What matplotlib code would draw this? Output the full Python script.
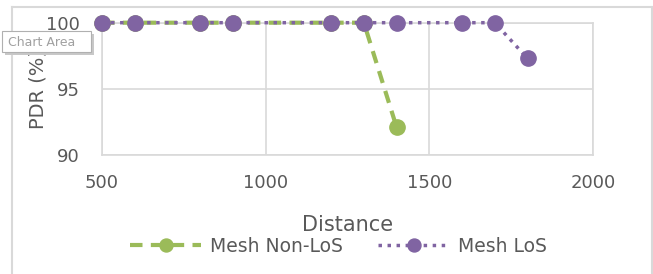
import matplotlib.pyplot as plt
from matplotlib.patches import Rectangle
from matplotlib.lines import Line2D

# data
dist_nlos = [500, 600, 800, 900, 1200, 1300, 1400]
pdr_nlos = [100, 100, 100, 100, 100, 100, 92.1]
dist_los = [500, 600, 800, 900, 1200, 1300, 1400, 1600, 1700, 1800]
pdr_los = [100, 100, 100, 100, 100, 100, 100, 100, 100, 97.3]

green = '#9BBB59'
purple = '#8064A2'
grid_c = '#D9D9D9'
text_c = '#595959'

W, H = 653, 274
fig = plt.figure(figsize=(W / 100, H / 100), dpi=100)
ax = fig.add_axes([102 / W, 1 - 155 / H, (593 - 102) / W, (155 - 22.7) / H])

ax.plot(dist_nlos, pdr_nlos, color=green, ls=(0, (3, 2)), lw=3, marker='o', ms=11,
        label='Mesh Non-LoS', clip_on=False, zorder=3)
ax.plot(dist_los, pdr_los, color=purple, ls=(0, (1, 1.6)), lw=2.5, marker='o', ms=11,
        label='Mesh LoS', clip_on=False, zorder=4)

ax.set_xlim(500, 2000)
ax.set_ylim(90, 100)
ax.set_xticks([500, 1000, 1500, 2000])
ax.set_yticks([90, 95, 100])
ax.grid(True, color=grid_c, lw=1.2)
ax.set_axisbelow(True)
for s in ax.spines.values():
    s.set_color(grid_c)
    s.set_linewidth(1.2)
ax.tick_params(length=0, labelsize=13, labelcolor=text_c)
ax.tick_params(axis='y', pad=16)
ax.tick_params(axis='x', pad=14)

ax.set_xlabel('Distance', fontsize=15, color=text_c)
ax.xaxis.set_label_coords(0.5, -0.45)
ax.set_ylabel('PDR (%)', fontsize=14, color=text_c)
ax.yaxis.set_label_coords(-0.11, 0.5)

fig.legend(loc='center', bbox_to_anchor=(0.518, 1 - 246 / H), ncol=2, frameon=False,
           fontsize=13.5, labelcolor=text_c, handlelength=3.8, handletextpad=0.45,
           columnspacing=1.9, markerscale=0.85)

# chart area frame
for xs, ys in [([12, 12], [7, 274]), ([12, 652], [7, 7]), ([652, 652], [7, 274])]:
    fig.add_artist(Line2D([x / W for x in xs], [1 - y / H for y in ys],
                          color=grid_c, lw=1.5))

# excel tooltip
fig.add_artist(Rectangle((5 / W, 1 - 55 / H), 89 / W, 21 / H, color='#c8c8c8',
                         lw=0, zorder=10))
fig.add_artist(Rectangle((2 / W, 1 - 52 / H), 89 / W, 21 / H, facecolor='white',
                         edgecolor='#b0b0b0', lw=0.8, zorder=11))
fig.text(8 / W, 1 - 42 / H, 'Chart Area', fontsize=9, color='#a0a0a0',
         va='center', zorder=12)

fig.savefig('out.png', dpi=100)
